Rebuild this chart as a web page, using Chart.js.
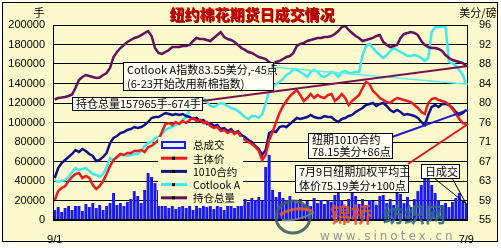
<!DOCTYPE html>
<html>
<head>
<meta charset="utf-8">
<script src="https://cdn.jsdelivr.net/npm/chart.js@4"></script>
<style>
  html, body { margin: 0; padding: 0; background: #fff; }
  canvas { display: block; }
</style>
</head>
<body>
<canvas id="myChart" width="501" height="248" style="width:501px;height:248px"></canvas>
<script>
// trading days 9/1 .. 7/9 (only the two ends are labelled)
var days = [];
for (var d = 0; d < 120; d++) days.push(d === 0 ? '9/1' : (d === 119 ? '7/9' : ''));

// 总成交 (手)
var volume = [10300,13300,8200,12300,14400,10300,14400,14400,9200,16400,
  13300,17400,12300,15400,10300,14400,17400,27700,15400,17400,
  14400,18500,21500,29700,24600,17400,30800,48200,44100,37900,
  30800,17400,15400,12300,14400,11300,13300,15400,12300,14400,
  10300,14400,12300,15400,13300,14400,11300,15400,13300,10300,
  14400,15400,12300,15400,17400,21500,18500,22600,20500,23600,
  19500,54400,66700,30800,23600,28700,22600,20500,24600,20500,
  17400,21500,15400,19500,14400,22600,17400,20500,16400,20500,
  18500,25600,27700,20500,14400,21500,28700,24600,16400,21500,
  15400,20500,19500,15400,24600,25600,17400,21500,15400,28700,
  26700,17400,23600,13300,21500,29700,35900,44100,53300,35900,
  27700,20500,15400,17400,13300,18500,22600,27700,20500,16400];

// 持仓总量 (手)
var openInt = [123600,125100,125600,126200,127200,128700,135400,143600,146700,148700,
  147700,146700,145600,146200,148700,150800,155900,167200,172300,176400,
  179500,182600,184600,186700,187700,189700,191800,193800,188700,176400,
  171300,170300,172300,174400,177400,177400,177400,178500,178500,179500,
  183600,186700,185600,185600,184600,183600,186700,189700,192800,187700,
  185600,184600,182600,179500,176400,174400,172300,171300,169200,167200,
  166200,165100,162100,160000,162100,163100,165100,167200,168200,171300,
  178500,180500,181500,183600,184600,185600,186700,186700,187700,187700,
  188700,190800,193800,197900,199000,194900,191800,188700,186700,183600,
  184600,185600,186700,188700,189700,182600,179500,177400,178500,179500,
  186700,190800,191800,192800,191800,189700,183600,179500,177400,176400,
  176400,175400,173300,169200,166200,164100,163100,162100,161000,157965];

// 主体价 (美分/磅)
var mainPrice = [59.21,61.10,61.73,62.15,63.20,64.04,64.67,64.88,63.83,64.25,
  63.83,62.36,61.52,62.15,63.20,64.67,66.35,67.62,68.25,68.88,
  68.67,69.09,69.09,69.51,69.51,69.72,69.30,70.35,70.56,71.19,
  71.82,73.50,75.18,75.39,74.97,75.61,75.18,75.82,75.39,76.03,
  76.45,75.82,76.03,75.39,75.61,74.76,74.34,74.55,73.71,73.92,
  73.29,73.71,73.08,73.50,72.24,71.82,71.40,70.98,70.35,69.51,
  67.62,68.67,71.82,73.50,75.61,77.50,78.97,80.02,81.07,81.70,
  82.33,81.28,80.02,80.65,81.49,80.65,81.28,80.86,80.65,81.28,
  81.49,80.02,80.65,81.49,80.65,79.18,80.02,80.65,81.28,82.75,
  84.02,83.59,82.12,81.49,80.65,80.23,79.81,79.60,80.23,80.65,
  80.44,80.23,80.02,79.81,79.18,78.55,77.71,77.29,79.60,80.44,
  80.65,80.23,80.02,79.81,79.18,78.34,77.29,76.24,75.39,75.19];

// 1010合约 (美分/磅)
var contract1010 = [63.83,65.93,66.98,67.62,68.25,68.88,69.72,69.30,69.93,69.51,
  68.88,68.46,67.41,67.62,68.25,69.09,71.19,72.24,72.66,73.29,
  73.50,73.92,74.13,74.55,74.34,74.55,74.97,75.61,76.45,76.66,
  76.66,77.08,77.50,77.29,77.08,77.29,77.08,77.29,76.87,76.66,
  76.24,76.45,75.82,76.03,75.18,75.39,74.76,74.97,74.13,74.34,
  73.71,74.13,73.29,73.71,72.87,72.45,71.82,71.40,70.56,69.93,
  68.67,69.72,73.29,73.71,73.50,74.55,74.76,74.55,75.18,75.82,
  76.45,76.24,76.45,76.66,77.08,76.66,76.45,76.45,76.87,76.66,
  76.66,76.03,75.61,76.24,76.45,76.87,77.08,77.71,78.13,78.55,
  79.18,79.39,79.60,78.97,79.39,79.60,78.97,78.13,77.71,78.13,
  77.71,77.08,77.29,77.08,76.87,76.45,75.61,74.97,77.08,78.76,
  79.18,78.76,79.39,79.39,79.18,78.55,77.71,77.08,77.50,78.15];

// Cotlook A (美分/磅)
var cotlook = [63.41,62.99,63.20,63.41,64.04,65.09,65.93,65.51,65.72,65.93,
  65.30,64.67,64.46,64.04,64.67,66.14,68.04,67.62,68.25,68.67,
  68.67,68.46,68.67,68.88,68.88,69.51,70.56,71.19,71.40,72.24,
  72.45,73.08,73.92,74.34,74.55,74.97,75.39,76.03,76.66,78.13,
  79.39,79.81,80.23,80.65,79.81,78.97,78.76,79.18,79.60,79.39,
  78.97,78.55,78.34,77.92,77.29,76.66,76.24,76.87,76.87,76.45,
  77.29,79.39,82.33,82.96,83.59,84.02,84.65,85.49,85.91,86.75,
  86.54,86.12,85.70,85.07,86.12,86.54,86.12,85.28,85.07,85.49,
  86.12,85.91,85.07,86.12,86.33,85.91,85.91,86.12,86.12,89.69,
  91.58,92.01,91.16,90.32,89.69,89.06,89.69,90.53,91.16,90.74,
  90.32,89.90,89.48,89.48,89.69,89.48,89.06,88.43,89.06,94.53,
  95.58,95.58,95.58,95.79,88.22,88.01,87.38,86.54,85.49,83.55];

// right axis: 55..96 in ten equal steps, labels rounded
var rightTicks = [55, 59.1, 63.2, 67.3, 71.4, 75.5, 79.6, 83.7, 87.8, 91.9, 96];
var rightLabels = ['55','59','63','67','71','76','80','84','88','92','96'];

var BG = '#fcf9cc';
var FONT = '"Noto Sans CJK SC", "Liberation Sans", sans-serif';

var backdrop = {
  id: 'backdrop',
  beforeDraw: function(chart) {
    var c = chart.ctx;
    c.save();
    c.fillStyle = '#ffffff';
    c.fillRect(0, 0, 501, 248);
    c.fillStyle = BG;
    c.fillRect(2, 2, 496, 240);
    c.strokeStyle = '#000';
    c.lineWidth = 1;
    c.strokeRect(2.5, 2.5, 495, 239);
    c.restore();
  }
};

function seg(c, x1, y1, x2, y2, col, w) {
  c.strokeStyle = col; c.lineWidth = w;
  c.beginPath(); c.moveTo(x1, y1); c.lineTo(x2, y2); c.stroke();
}

function box(c, x, y, w, h, lines, fs) {
  c.fillStyle = '#fffff4';
  c.fillRect(x, y, w, h);
  c.strokeStyle = '#000'; c.lineWidth = 1;
  c.strokeRect(x + 0.5, y + 0.5, w, h);
  c.fillStyle = '#000';
  c.font = fs + 'px ' + FONT;
  c.textBaseline = 'middle';
  c.textAlign = 'left';
  var lh = h / lines.length;
  for (var i = 0; i < lines.length; i++) c.fillText(lines[i], x + 4, y + lh * (i + 0.5) + 0.5);
}

var overlay = {
  id: 'overlay',
  afterDraw: function(chart) {
    var c = chart.ctx, a = chart.chartArea;
    var yl = chart.scales.y, yr = chart.scales.y2;
    var n = days.length - 1;
    var xe = a.right;
    c.save();

    // plot frame
    c.strokeStyle = '#000'; c.lineWidth = 1;
    c.strokeRect(a.left + 0.5, a.top + 0.5, a.width - 1, a.height - 1);

    // callout lines
    seg(c, 272, 67, xe, yr.getPixelForValue(cotlook[n]), '#5ff0f0', 1.5);
    seg(c, 202, 101, xe, yl.getPixelForValue(openInt[n]), '#7a1050', 2);
    seg(c, 392, 137, xe, yr.getPixelForValue(contract1010[n]), '#1a1ad0', 2);
    seg(c, 408, 164, xe, yr.getPixelForValue(mainPrice[n]), '#e01818', 2);
    var bx = chart.scales.x.getPixelForValue(n), by = yl.getPixelForValue(volume[n]);
    seg(c, 434, 178, bx, by, '#000', 1);
    seg(c, 452, 178, bx, by, '#000', 1);

    // annotation boxes
    box(c, 123, 62, 150, 28, ['Cotlook A指数83.55美分,-45点', '(6-23开始改用新棉指数)'], 11);
    box(c, 72, 97, 130, 13, ['持仓总量157965手-674手'], 11);
    box(c, 308, 133, 84, 25, ['纽期1010合约', '78.15美分+86点'], 11);
    box(c, 295, 165, 113, 27, ['7月9日纽期加权平均主', '体价75.19美分+100点'], 11);
    box(c, 421, 164, 38, 14, ['日成交'], 11);

    // legend
    c.fillStyle = BG;
    c.fillRect(158, 137, 85, 69);
    var ds = chart.data.datasets;
    c.font = '10.5px ' + FONT;
    c.textBaseline = 'middle'; c.textAlign = 'left';
    for (var i = 0; i < ds.length; i++) {
      var ly = 145 + i * 13.2;
      if (ds[i].type === 'bar') {
        c.fillStyle = '#e8f4ff';
        c.fillRect(162, ly - 3, 23, 6);
        c.strokeStyle = ds[i].backgroundColor; c.lineWidth = 2;
        c.strokeRect(162, ly - 3, 23, 6);
      } else {
        seg(c, 161, ly, 187, ly, ds[i].borderColor, 3);
        c.fillStyle = '#000';
        c.fillRect(172, ly - 1.5, 3, 3);
      }
      c.fillStyle = '#000';
      c.fillText(ds[i].label, 193, ly + 0.5);
    }

    // title and axis titles
    c.textAlign = 'center';
    c.textBaseline = 'middle';
    c.font = 'bold 15px ' + FONT;
    c.fillStyle = '#7a0000';
    c.fillText('纽约棉花期货日成交情况', 253, 15);
    c.fillStyle = '#d40000';
    c.fillText('纽约棉花期货日成交情况', 252, 14);
    c.fillStyle = '#000';
    c.font = '11px ' + FONT;
    c.fillText('手', 39, 13);
    c.fillText('美分/磅', 478, 13);

    // watermark
    c.globalAlpha = 0.9;
    c.strokeStyle = '#3f5c66'; c.lineWidth = 3;
    c.beginPath(); c.ellipse(293, 217, 17, 16, 0, 0, Math.PI * 2); c.stroke();
    c.strokeStyle = '#e85a30'; c.lineWidth = 3;
    c.beginPath(); c.moveTo(280, 215); c.quadraticCurveTo(295, 205, 312, 211); c.stroke();
    c.strokeStyle = '#7a86a0'; c.lineWidth = 2;
    c.beginPath(); c.moveTo(282, 220); c.quadraticCurveTo(298, 222, 314, 212); c.stroke();
    c.textAlign = 'left'; c.textBaseline = 'alphabetic';
    c.font = 'bold 21px ' + FONT;
    c.fillStyle = '#e8502a';
    c.fillText('锦桥', 330, 222);
    c.fillStyle = '#2f6c7c';
    c.fillText('纺织网', 383, 222);
    c.font = '8px ' + FONT;
    c.fillStyle = '#888';
    c.fillText('®', 374, 208);
    c.font = '12px "DejaVu Sans", sans-serif';
    c.fillStyle = '#8c8c8c';
    c.letterSpacing = '3px';
    c.fillText('www.sinotex.cn', 320, 240);
    c.restore();
  }
};

var ctx = document.getElementById('myChart').getContext('2d');
var myChart = new Chart(ctx, {
  data: {
    labels: days,
    datasets: [
      { type: 'bar', label: '总成交', data: volume, yAxisID: 'y',
        backgroundColor: '#1a1af0', barPercentage: 0.85, categoryPercentage: 1, order: 10 },
      { type: 'line', label: '主体价', data: mainPrice, yAxisID: 'y2',
        borderColor: '#ec1c1c', borderWidth: 2.5, pointRadius: 0, tension: 0, order: 1 },
      { type: 'line', label: '1010合约', data: contract1010, yAxisID: 'y2',
        borderColor: '#10108c', borderWidth: 2.5, pointRadius: 0, tension: 0, order: 2 },
      { type: 'line', label: 'Cotlook A', data: cotlook, yAxisID: 'y2',
        borderColor: '#3ceaf0', borderWidth: 2.5, pointRadius: 0, tension: 0, order: 4 },
      { type: 'line', label: '持仓总量', data: openInt, yAxisID: 'y',
        borderColor: '#65105e', borderWidth: 2.5, pointRadius: 0, tension: 0, order: 3 }
    ]
  },
  options: {
    responsive: false,
    animation: false,
    devicePixelRatio: 1,
    layout: { padding: { top: 25, left: 0, right: 0, bottom: 0 } },
    plugins: { legend: { display: false }, tooltip: { enabled: false } },
    scales: {
      x: {
        type: 'category',
        offset: true,
        grid: { display: false },
        border: { display: false },
        ticks: {
          autoSkip: false, maxRotation: 0, padding: 5, color: '#000',
          font: { family: 'Liberation Sans', size: 11 },
          callback: function(v, i) { return days[i]; }
        },
        afterFit: function(s) { s.height = 28; }
      },
      y: {
        position: 'left', min: 0, max: 200000,
        grid: { color: '#000', drawTicks: false },
        border: { display: false },
        ticks: {
          stepSize: 20000, padding: 8, color: '#000',
          font: { family: 'Liberation Sans', size: 11 },
          callback: function(v) { return String(v); }
        },
        afterFit: function(s) { s.width = 53; }
      },
      y2: {
        position: 'right', min: 55, max: 96,
        grid: { display: false, drawTicks: false },
        border: { display: false },
        afterBuildTicks: function(s) { s.ticks = rightTicks.map(function(v) { return { value: v }; }); },
        ticks: {
          padding: 11, color: '#000',
          font: { family: 'Liberation Sans', size: 11 },
          callback: function(v, i) { return rightLabels[i]; }
        },
        afterFit: function(s) { s.width = 33; }
      }
    }
  },
  plugins: [backdrop, overlay]
});
</script>
</body>
</html>
